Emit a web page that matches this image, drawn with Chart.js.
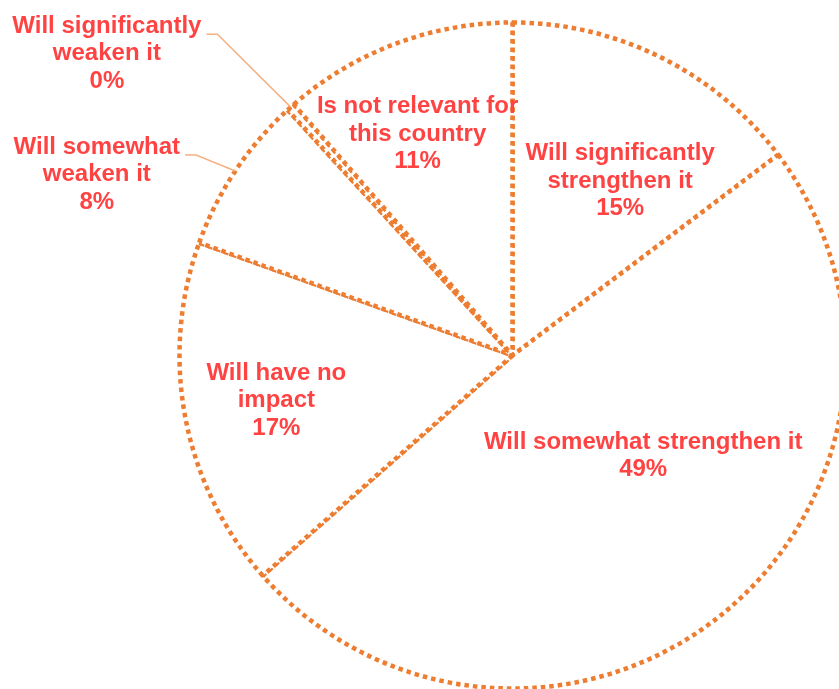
<!DOCTYPE html>
<html>
<head>
<meta charset="utf-8">
<script src="https://cdn.jsdelivr.net/npm/chart.js@4"></script>
<style>
  html, body { margin: 0; padding: 0; background: #fff; }
  canvas { display: block; }
</style>
</head>
<body>
<canvas id="impactChart" width="839" height="689"></canvas>
<script>
// data (percent of answers)
const categories = [
    'Will significantly strengthen it',
    'Will somewhat strengthen it',
    'Will have no impact',
    'Will somewhat weaken it',
    'Will significantly weaken it',
    'Is not relevant for this country'
];
const values = [14.7, 48.8, 17.0, 7.7, 0.4, 11.4];
// how the category text wraps in the labels
const labelLines = [
    ['Will significantly', 'strengthen it'],
    ['Will somewhat strengthen it'],
    ['Will have no', 'impact'],
    ['Will somewhat', 'weaken it'],
    ['Will significantly', 'weaken it'],
    ['Is not relevant for', 'this country']
];

// label placement: r = fraction of radius, da = degrees off the slice middle
// outside labels get a leader line to an elbow at r
const labelPlace = [
    { r: 0.616, da: 5.2 },
    { r: 0.495, da: -13.2 },
    { r: 0.722, da: 0 },
    { r: 1.125, da: -1.3, outside: true },
    { r: 1.31, da: -0.8, outside: true },
    { r: 0.723, da: -2.7 }
];

const textColor = '#ff4343';
const lineColor = '#ed7d31';
const leaderColor = '#f4b183';
const font = 'bold 24px "Liberation Sans", Arial, sans-serif';
const lineH = 27.5;

const pieLabels = {
    id: 'pieLabels',
    afterDatasetsDraw(chart) {
        const ctx = chart.ctx;
        const arcs = chart.getDatasetMeta(0).data;
        ctx.save();
        ctx.font = font;
        ctx.fillStyle = textColor;
        ctx.textBaseline = 'middle';
        ctx.textAlign = 'center';
        arcs.forEach(function (arc, i) {
            const p = arc.getProps(['x', 'y', 'startAngle', 'endAngle', 'outerRadius'], true);
            const place = labelPlace[i];
            const mid = (p.startAngle + p.endAngle) / 2;
            const lines = labelLines[i].concat([Math.round(values[i]) + '%']);
            if (!place.outside) {
                const a = mid + place.da * Math.PI / 180;
                const cx = p.x + Math.cos(a) * place.r * p.outerRadius;
                const cy = p.y + Math.sin(a) * place.r * p.outerRadius;
                const top = cy - (lines.length - 1) * lineH / 2;
                lines.forEach(function (t, k) {
                    ctx.fillText(t, cx, top + k * lineH);
                });
            } else {
                // leader line: slice edge -> elbow -> short horizontal
                const sx = p.x + Math.cos(mid) * p.outerRadius;
                const sy = p.y + Math.sin(mid) * p.outerRadius;
                const a = mid + place.da * Math.PI / 180;
                const ex = p.x + Math.cos(a) * place.r * p.outerRadius;
                const ey = p.y + Math.sin(a) * place.r * p.outerRadius;
                const hx = ex - 11;
                ctx.strokeStyle = leaderColor;
                ctx.lineWidth = 1.5;
                ctx.beginPath();
                ctx.moveTo(sx, sy);
                ctx.lineTo(ex, ey);
                ctx.lineTo(hx, ey);
                ctx.stroke();
                const w0 = ctx.measureText(lines[0]).width;
                const cx = hx - 5 - w0 / 2;
                const top = ey - 8;
                lines.forEach(function (t, k) {
                    ctx.fillText(t, cx, top + k * lineH);
                });
            }
        });
        ctx.restore();
    }
};

var ctx = document.getElementById('impactChart');

var myChart = new Chart(ctx, {
    type: 'pie',
    data: {
        labels: categories,
        datasets: [{
            data: values,
            backgroundColor: '#ffffff',
            borderColor: lineColor,
            borderWidth: 4.5,
            borderDash: [4.5, 4],
            borderJoinStyle: 'bevel',
            radius: 333
        }]
    },
    options: {
        responsive: false,
        animation: false,
        layout: {
            padding: { left: 186, top: 22, right: 0, bottom: 0 }
        },
        plugins: {
            legend: { display: false },
            tooltip: { enabled: false }
        }
    },
    plugins: [pieLabels]
});
</script>
</body>
</html>
